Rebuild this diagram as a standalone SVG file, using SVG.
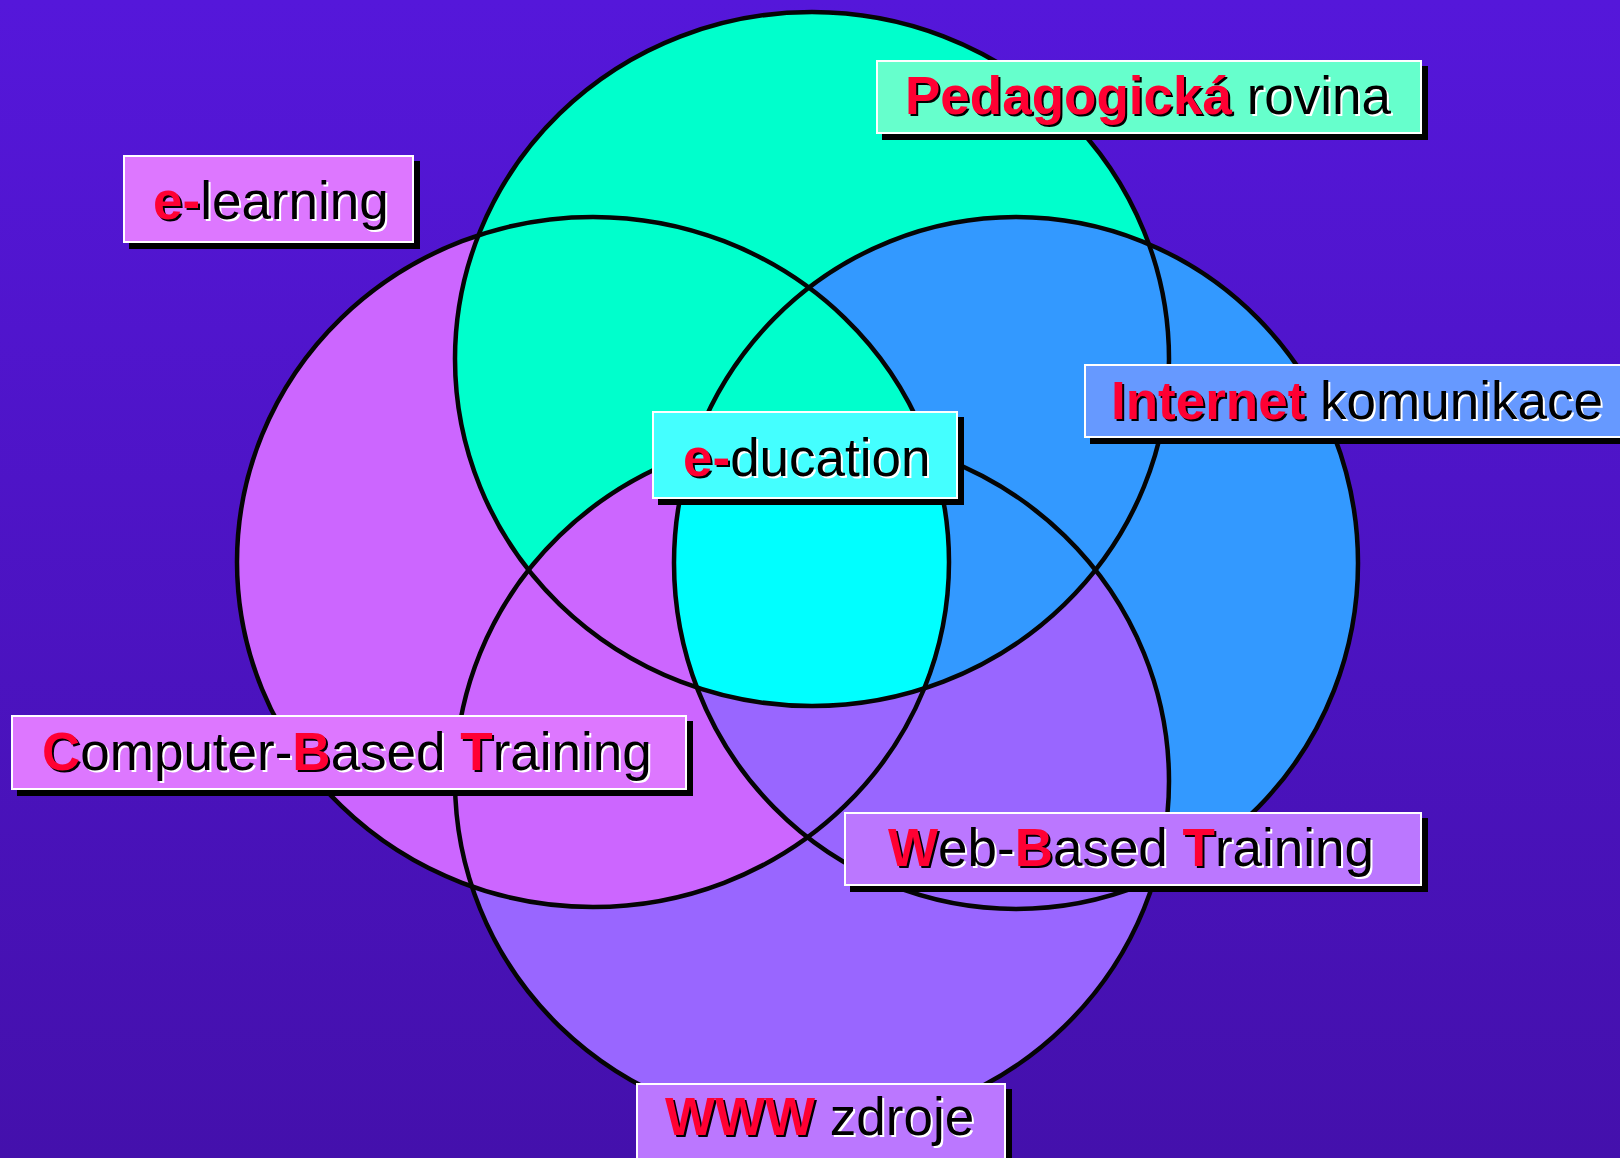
<svg xmlns="http://www.w3.org/2000/svg" width="1620" height="1158" viewBox="0 0 1620 1158">
<defs>
<linearGradient id="bg" x1="0" y1="0" x2="0" y2="1">
<stop offset="0" stop-color="#5517DA"/>
<stop offset="1" stop-color="#4410AC"/>
</linearGradient>
<clipPath id="cT"><ellipse cx="812" cy="359" rx="357" ry="347"/></clipPath>
<clipPath id="cB"><ellipse cx="812" cy="781" rx="357" ry="347"/></clipPath>
<clipPath id="cL"><ellipse cx="593" cy="562" rx="356" ry="345"/></clipPath>
<clipPath id="cR"><ellipse cx="1016" cy="563" rx="342" ry="346"/></clipPath>
<style>
.ol{fill:none;stroke:#050505;stroke-width:4.5}
.sh{fill:#000}
.box{stroke:#fff;stroke-width:2}
text{font-family:"Liberation Sans",Arial,sans-serif;font-size:53px}
.t{fill:#000}
.r{fill:#FF0033;font-weight:bold}
.ws{fill:#fff}
.ks{fill:#000;font-weight:bold}
</style>
</defs>
<rect width="1620" height="1158" fill="url(#bg)"/>
<g id="venn">
<ellipse cx="812" cy="781" rx="357" ry="347" fill="#9966FF"/>
<ellipse cx="593" cy="562" rx="356" ry="345" fill="#CC66FF"/>
<ellipse cx="812" cy="359" rx="357" ry="347" fill="#00FFCC"/>
<ellipse cx="1016" cy="563" rx="342" ry="346" fill="#3399FF"/>
<g clip-path="url(#cB)"><ellipse cx="1016" cy="563" rx="342" ry="346" fill="#9966FF"/></g>
<g clip-path="url(#cT)"><g clip-path="url(#cB)"><ellipse cx="1016" cy="563" rx="342" ry="346" fill="#3399FF"/></g></g>
<g clip-path="url(#cT)"><g clip-path="url(#cL)"><ellipse cx="1016" cy="563" rx="342" ry="346" fill="#00FFCC"/></g></g>
<g clip-path="url(#cT)"><g clip-path="url(#cB)"><ellipse cx="593" cy="562" rx="356" ry="345" fill="#CC66FF"/></g></g>
<g clip-path="url(#cT)"><g clip-path="url(#cB)"><g clip-path="url(#cL)"><ellipse cx="1016" cy="563" rx="342" ry="346" fill="#00FFFF"/></g></g></g>
<ellipse class="ol" cx="812" cy="359" rx="357" ry="347"/>
<ellipse class="ol" cx="812" cy="781" rx="357" ry="347"/>
<ellipse class="ol" cx="593" cy="562" rx="356" ry="345"/>
<ellipse class="ol" cx="1016" cy="563" rx="342" ry="346"/>
</g>
<g id="connectors"></g>
<g id="elearning">
<rect class="sh" x="129" y="161" width="291" height="88"/>
<rect class="box" x="124" y="156" width="289" height="86" fill="#DD77FF"/>
<text x="155" y="221"><tspan class="ks">e-</tspan><tspan class="ws">learning</tspan></text>
<text class="t" x="153" y="219"><tspan class="r">e-</tspan>learning</text>
</g>
<g id="pedagogicka">
<rect class="sh" x="882" y="66" width="546" height="74"/>
<rect class="box" x="877" y="61" width="544" height="72" fill="#66FFCC"/>
<text x="907" y="116"><tspan class="ks">Pedagogická</tspan><tspan class="ws"> rovina</tspan></text>
<text class="t" x="905" y="114"><tspan class="r">Pedagogická</tspan> rovina</text>
</g>
<g id="education">
<rect class="sh" x="658" y="417" width="306" height="88"/>
<rect class="box" x="653" y="412" width="304" height="86" fill="#44FFFF"/>
<text x="685" y="478"><tspan class="ks">e-</tspan><tspan class="ws">ducation</tspan></text>
<text class="t" x="683" y="476"><tspan class="r">e-</tspan>ducation</text>
</g>
<g id="internet">
<rect class="sh" x="1090" y="370" width="560" height="74"/>
<rect class="box" x="1085" y="365" width="560" height="72" fill="#6699FF"/>
<text x="1113" y="421"><tspan class="ks">Internet</tspan><tspan class="ws"> komunikace</tspan></text>
<text class="t" x="1111" y="419"><tspan class="r">Internet</tspan> komunikace</text>
</g>
<g id="cbt">
<rect class="sh" x="17" y="721" width="676" height="75"/>
<rect class="box" x="12" y="716" width="674" height="73" fill="#DD77FF"/>
<text x="44" y="772"><tspan class="ks">C</tspan><tspan class="ws">omputer-</tspan><tspan class="ks">B</tspan><tspan class="ws">ased </tspan><tspan class="ks">T</tspan><tspan class="ws">raining</tspan></text>
<text class="t" x="42" y="770"><tspan class="r">C</tspan>omputer-<tspan class="r">B</tspan>ased <tspan class="r">T</tspan>raining</text>
</g>
<g id="wbt">
<rect class="sh" x="850" y="818" width="578" height="74"/>
<rect class="box" x="845" y="813" width="576" height="72" fill="#BB77FF"/>
<text x="890" y="868"><tspan class="ks">W</tspan><tspan class="ws">eb-</tspan><tspan class="ks">B</tspan><tspan class="ws">ased </tspan><tspan class="ks">T</tspan><tspan class="ws">raining</tspan></text>
<text class="t" x="888" y="866"><tspan class="r">W</tspan>eb-<tspan class="r">B</tspan>ased <tspan class="r">T</tspan>raining</text>
</g>
<g id="www">
<rect class="sh" x="642" y="1089" width="370" height="92"/>
<rect class="box" x="637" y="1084" width="368" height="90" fill="#BB77FF"/>
<text x="667" y="1137"><tspan class="ks">WWW</tspan><tspan class="ws"> zdroje</tspan></text>
<text class="t" x="665" y="1135"><tspan class="r">WWW</tspan> zdroje</text>
</g>
</svg>
